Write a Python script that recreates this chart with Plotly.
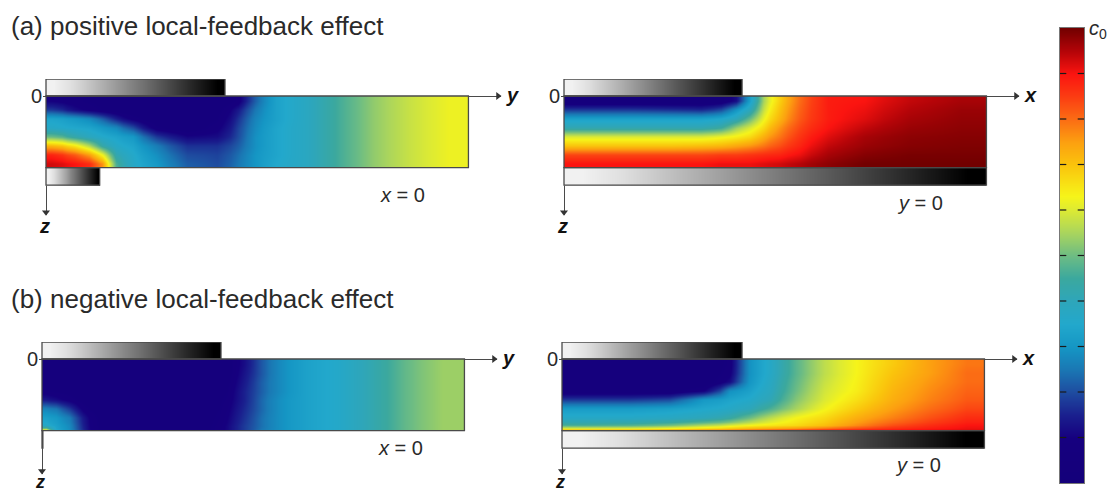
import numpy as np
import plotly.graph_objects as go

W, H = 1112, 493
PX = 179.0  # pixels per length unit

# ---- colour scale
scale_stops = [0, .1, .15, .2, .25, .3, .35, .4, .45, .5, .55, .6, .63, .7, .75, .8, .85, .9, .95, 1]
scale_cols = ["#14007a", "#16007f", "#1a1f8e", "#1e4ca0", "#1a78b4", "#1596c4", "#22a8cc", "#2ea6ba", "#3ba89e",
              "#6cbc84", "#a8d45e", "#dcea34", "#f6f41a", "#fac40c", "#fca010", "#fb6c14", "#fb3c12", "#fb1410",
              "#b40408", "#720000"]

tick_levels = [0, 1]
tick_names = ["0", "<i>c</i><sub>0</sub>"]
minor_levels = [.1, .2, .3, .4, .5, .6, .7, .8, .9]
bar_levels = [0, .05, .1, .15, .2, .25, .3, .35, .4, .45, .5, .55, .6, .65, .7, .75, .8, .85, .9, .95, 1]
grey_shades = [.03, .1, .2, .3, .4, .5, .6, .7, .8, .9, 1]

# ---- depth edges
rows8 = [0, .05, .1, .15, .2, .25, .3, .35, .4]
rows9 = [0, .05, .1, .15, .2, .25, .3, .35, .385, .4]

# ---- (a) y section, x = 0
a_left_x = [0, .06, .12, .2, .28, .35, .43, .54, .69, .88, 1.03, 1.12, 1.22, 1.35, 1.54, 1.73, 1.92, 2.14, 2.36]
a_left_z = [
    [.10, .09, .08, .07, .06, .06, .05, .05, .05, .05, .08, .22, .33, .38, .46, .53, .58, .62],
    [.18, .16, .12, .09, .07, .06, .05, .05, .05, .06, .14, .25, .33, .38, .46, .53, .58, .62],
    [.34, .33, .31, .28, .22, .15, .09, .05, .05, .07, .17, .27, .33, .38, .46, .53, .58, .62],
    [.37, .36, .35, .34, .31, .28, .20, .08, .05, .09, .19, .28, .34, .38, .46, .53, .58, .62],
    [.50, .48, .43, .39, .36, .34, .31, .18, .11, .12, .20, .29, .34, .38, .46, .53, .58, .62],
    [.72, .70, .65, .56, .43, .37, .34, .26, .17, .17, .22, .29, .34, .38, .46, .53, .58, .62],
    [.88, .86, .82, .75, .62, .42, .36, .29, .20, .19, .24, .30, .34, .38, .46, .53, .58, .62],
    [.93, .92, .90, .87, .76, .47, .37, .31, .22, .20, .25, .30, .35, .38, .46, .53, .58, .62],
]

# ---- (a) x section, y = 0
a_right_x = [0, .25, .49, .70, .83, .92, 1.0, 1.08, 1.15, 1.25, 1.38, 1.57, 1.79, 2.08, 2.36]
a_right_z = [
    [.05, .05, .05, .05, .06, .12, .33, .55, .68, .80, .89, .90, .94, .96],
    [.18, .18, .17, .16, .20, .30, .40, .58, .70, .81, .89, .91, .95, .97],
    [.33, .33, .33, .33, .35, .40, .50, .62, .72, .82, .89, .92, .96, .975],
    [.42, .42, .42, .42, .45, .54, .60, .67, .76, .84, .90, .94, .97, .98],
    [.60, .60, .60, .60, .62, .64, .67, .73, .79, .86, .92, .96, .98, .985],
    [.70, .70, .70, .71, .72, .74, .76, .79, .83, .88, .94, .97, .985, .99],
    [.84, .84, .84, .84, .85, .85, .86, .87, .88, .91, .96, .985, .995, .995],
    [.90, .90, .90, .90, .91, .91, .91, .92, .93, .95, .98, 1, 1, 1],
]

# ---- (b) y section, x = 0
b_left_x = [0, .047, .113, .19, .27, .425, .71, .99, 1.08, 1.18, 1.27, 1.39, 1.56, 1.75, 1.94, 2.12, 2.36]
b_left_z = [
    [.05, .05, .05, .05, .05, .05, .05, .05, .12, .21, .28, .33, .36, .42, .49, .54],
    [.05, .05, .05, .05, .05, .05, .05, .05, .13, .21, .28, .33, .36, .42, .49, .54],
    [.06, .05, .05, .05, .05, .05, .05, .06, .14, .22, .28, .33, .36, .42, .49, .54],
    [.08, .07, .06, .05, .05, .05, .05, .07, .15, .22, .28, .33, .36, .42, .49, .54],
    [.14, .12, .09, .06, .05, .05, .05, .08, .15, .23, .29, .33, .36, .42, .49, .54],
    [.27, .25, .18, .09, .05, .05, .05, .09, .16, .23, .29, .33, .36, .42, .49, .54],
    [.33, .31, .26, .14, .05, .05, .05, .10, .17, .24, .29, .33, .36, .42, .49, .54],
    [.37, .33, .28, .15, .05, .05, .05, .11, .18, .24, .29, .33, .36, .42, .49, .54],
    [.62, .35, .29, .16, .05, .05, .05, .11, .18, .25, .29, .33, .36, .42, .49, .54],
]

# ---- (b) x section, y = 0
b_right_x = [0, .25, .50, .70, .88, .99, 1.10, 1.23, 1.38, 1.55, 1.74, 1.95, 2.16, 2.36]
b_right_z = [
    [.05, .05, .05, .05, .08, .29, .37, .48, .57, .63, .69, .75, .79],
    [.05, .05, .05, .05, .09, .29, .37, .48, .57, .63, .70, .75, .80],
    [.05, .05, .05, .05, .12, .30, .38, .49, .58, .635, .71, .76, .80],
    [.06, .06, .06, .10, .29, .33, .39, .50, .59, .64, .72, .77, .81],
    [.18, .18, .20, .31, .34, .36, .41, .52, .60, .66, .73, .78, .82],
    [.32, .32, .33, .35, .37, .40, .47, .55, .625, .69, .75, .80, .84],
    [.37, .37, .38, .40, .44, .50, .57, .63, .67, .73, .78, .83, .87],
    [.47, .48, .51, .56, .60, .63, .65, .67, .71, .77, .83, .87, .90],
    [.72, .72, .74, .76, .78, .80, .82, .84, .87, .89, .90, .91, .92],
]

TEXT = "#2a2a2a"
EDGE = "#4a4a4a"
FONT = "Liberation Sans"
colorscale = [[s, c] for s, c in zip(scale_stops, scale_cols)]
greys = [[0, "#f8f8f8"], [1, "#000000"]]

panels = [
    dict(ox=46, oy=96, xs=a_left_x, rows=rows8, z=a_left_z, top=1.0, bottom=.30, ax="y", sec="<i>x</i> = 0", sx=1.99, sz=.553, tip=.665, zpy=226, zsize=20),
    dict(ox=564, oy=96, xs=a_right_x, rows=rows8, z=a_right_z, top=.995, bottom=2.36, ax="x", sec="<i>y</i> = 0", sx=1.99, sz=.60, tip=.665, zpy=226, zsize=20),
    dict(ox=42, oy=359, xs=b_left_x, rows=rows9, z=b_left_z, top=1.0, bottom=.005, ax="y", sec="<i>x</i> = 0", sx=2.0, sz=.50, tip=.64, zpy=482, zsize=18),
    dict(ox=562, oy=359, xs=b_right_x, rows=rows9, z=b_right_z, top=1.006, bottom=2.36, ax="x", sec="<i>y</i> = 0", sx=1.99, sz=.59, tip=.64, zpy=482, zsize=18),
]

fig = go.Figure()
layout = dict(
    width=W, height=H, margin=dict(l=0, r=0, t=0, b=0, pad=0), autosize=False,
    paper_bgcolor="white", plot_bgcolor="rgba(0,0,0,0)", showlegend=False,
    font=dict(family=FONT, color=TEXT, size=17),
)
shapes, notes = [], []
TOP = -.095
XMIN, XTIP = -3 / PX, 2.54
DEPTH = .4
BAR = .098


def paper_note(px, py, text, size, color):
    return dict(x=px / W, y=1 - py / H, xref="paper", yref="paper", xanchor="center", yanchor="middle",
                text=text, showarrow=False, font=dict(size=size, color=color, family=FONT))


for i, p in enumerate(panels, start=1):
    xa, ya = f"x{i}", f"y{i}"
    fig.add_trace(go.Heatmap(x=p["xs"], y=p["rows"], z=p["z"], colorscale=colorscale, zmin=0, zmax=1,
                             zsmooth="best", showscale=False, xaxis=xa, yaxis=ya))
    for start, stop, a, b in [(0, p["top"], TOP, 0), (0, p["bottom"], DEPTH, DEPTH + BAR)]:
        fig.add_trace(go.Heatmap(x=np.linspace(start, stop, len(grey_shades) + 1), y=[a, b], z=[grey_shades],
                                 colorscale=greys, zmin=0, zmax=1, zsmooth="best", showscale=False,
                                 xaxis=xa, yaxis=ya))
        shapes.append(dict(type="rect", xref=xa, yref=ya, x0=start, x1=stop, y0=a, y1=b,
                           line=dict(color=EDGE, width=1.3)))
    shapes.append(dict(type="rect", xref=xa, yref=ya, x0=0, x1=2.36, y0=0, y1=DEPTH,
                       line=dict(color=EDGE, width=1.3)))
    fig.add_trace(go.Scatter(x=[XTIP - .015, 0], y=[0, p["tip"] - .015], mode="markers", cliponaxis=False,
                             marker=dict(symbol=["triangle-right", "triangle-down"], size=7, color="#333333"),
                             xaxis=xa, yaxis=ya, hoverinfo="skip"))
    left = p["ox"] + XMIN * PX
    right = p["ox"] + XTIP * PX
    top = p["oy"] + TOP * PX
    bot = p["oy"] + p["tip"] * PX
    layout[f"xaxis{i}"] = dict(domain=[left / W, right / W], range=[XMIN, XTIP], anchor=ya, automargin=False,
                               showgrid=False, showticklabels=False, ticks="", zeroline=True,
                               zerolinecolor=EDGE, zerolinewidth=1.3, showline=False)
    layout[f"yaxis{i}"] = dict(domain=[1 - bot / H, 1 - top / H], range=[p["tip"], TOP], anchor=xa, automargin=False,
                               showgrid=False, tickmode="array", tickvals=[0], ticktext=["0"], ticks="",
                               tickfont=dict(size=20, color=TEXT, family=FONT), zeroline=True,
                               zerolinecolor=EDGE, zerolinewidth=1.3, showline=False)
    notes.append(paper_note(p["ox"] + (XTIP + .068) * PX, p["oy"] - 1, f"<b><i>{p['ax']}</i></b>", 20, "#111111"))
    notes.append(paper_note(p["ox"] - 2, p["zpy"], "<b><i>z</i></b>", p["zsize"], "#111111"))
    notes.append(dict(x=p["sx"], y=p["sz"], xref=xa, yref=ya, text=p["sec"], showarrow=False,
                      font=dict(size=20, color=TEXT, family=FONT)))

# ---- colour bar
fig.add_trace(go.Heatmap(x=[0, 1], y=bar_levels, z=[[v, v] for v in bar_levels], colorscale=colorscale, zmin=0, zmax=1,
                         zsmooth="best", showscale=False, xaxis="x5", yaxis="y5"))
for side in (0, 1):
    fig.add_trace(go.Scatter(x=[side] * len(minor_levels), y=minor_levels, mode="markers", cliponaxis=True,
                             marker=dict(symbol="line-ew", size=9, line=dict(color="#1a1a1a", width=1.2)),
                             xaxis="x5", yaxis="y5", hoverinfo="skip"))
layout["xaxis5"] = dict(domain=[1060 / W, 1084 / W], range=[0, 1], anchor="y5", showgrid=False, automargin=False,
                        showticklabels=False, ticks="", zeroline=False, showline=True, linecolor="#777777",
                        linewidth=1, mirror=True)
layout["yaxis5"] = dict(domain=[1 - 483 / H, 1 - 28 / H], range=[0, 1], anchor="x5", side="right", showgrid=False,
                        automargin=False, tickmode="array", tickvals=tick_levels, ticktext=tick_names, ticks="",
                        zeroline=False, showline=True, linecolor="#777777", linewidth=1, mirror=True,
                        tickfont=dict(size=20, color=TEXT, family=FONT))

# ---- headings
for text, py in [("(a) positive local-feedback effect", 26), ("(b) negative local-feedback effect", 299)]:
    notes.append(dict(x=9 / W, y=1 - py / H, xref="paper", yref="paper", xanchor="left", yanchor="middle",
                      text=text, showarrow=False, font=dict(size=26, color=TEXT, family=FONT)))

layout["shapes"] = shapes
layout["annotations"] = notes
fig.update_layout(**layout)
fig.write_html("out.html", config={"displayModeBar": False}, post_script="document.body.style.margin='0';")
